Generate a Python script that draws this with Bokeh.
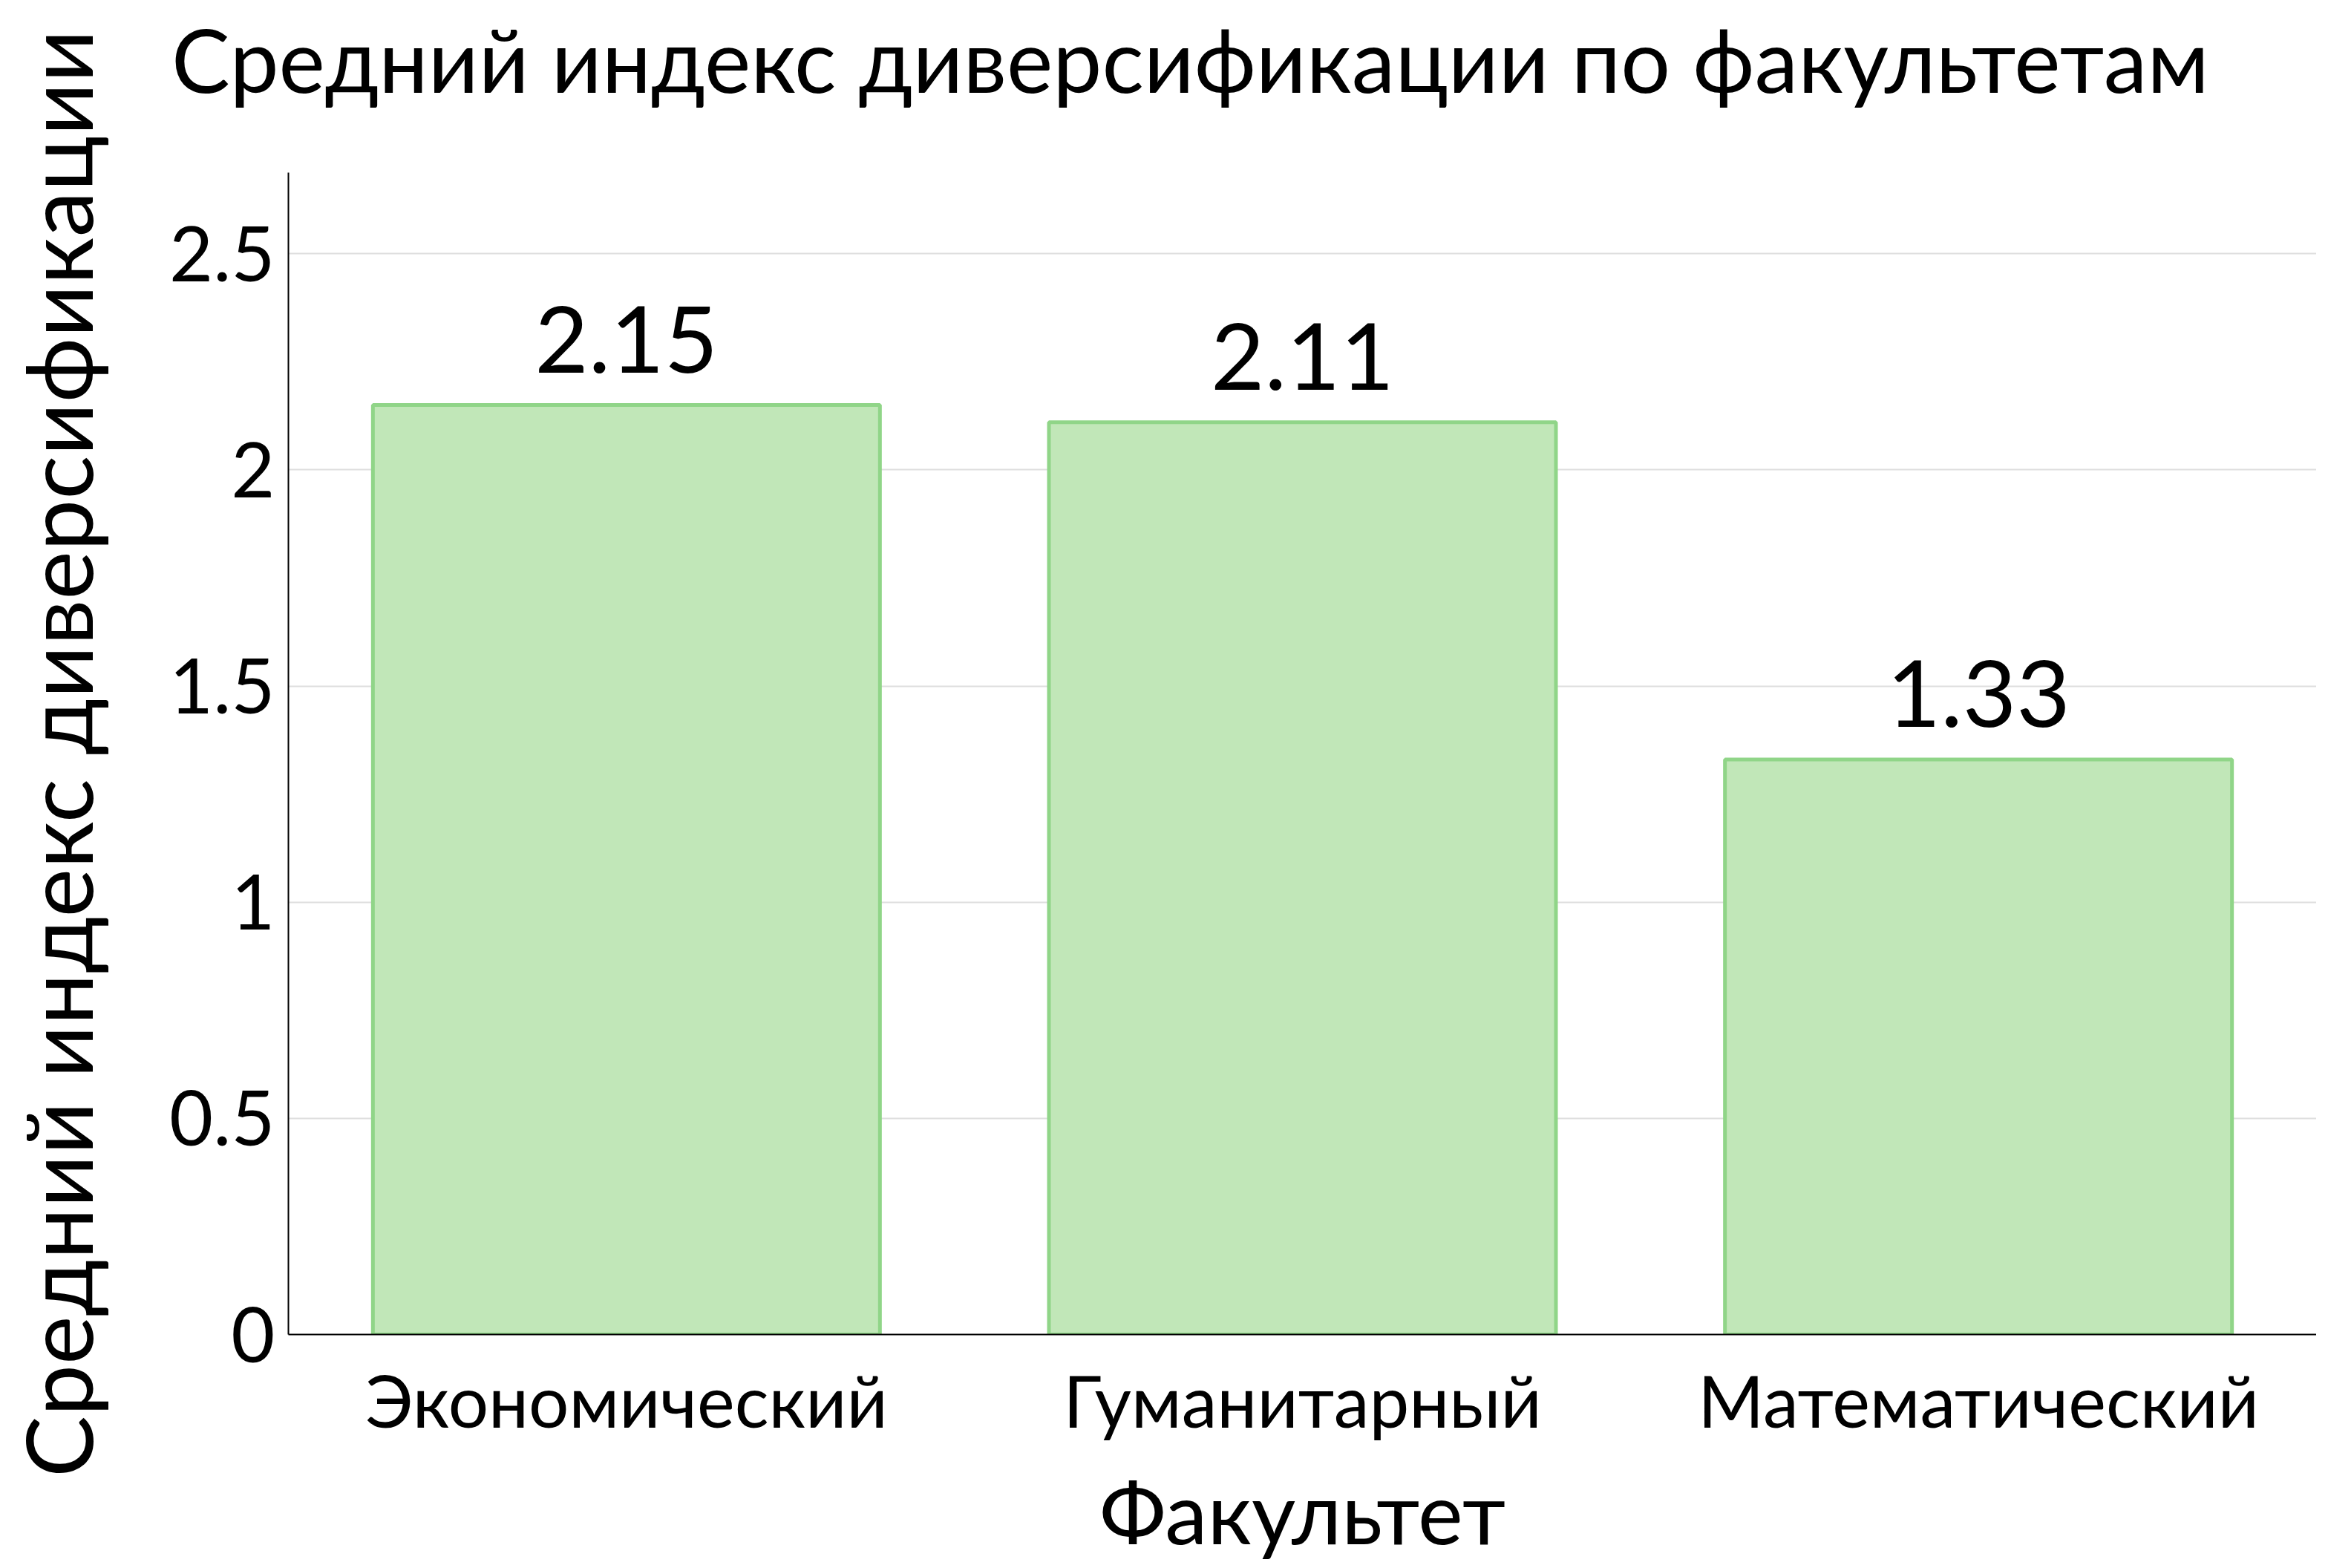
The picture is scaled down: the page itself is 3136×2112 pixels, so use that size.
from bokeh.plotting import figure
from bokeh.layouts import column
from bokeh.models import ColumnDataSource, Range1d, FixedTicker, LabelSet, FactorRange, NumeralTickFormatter, Div
from bokeh.core.properties import value
from bokeh.embed import file_html
from bokeh.resources import INLINE

categories = ["Экономический", "Гуманитарный", "Математический"]
values = [2.15, 2.11, 1.33]
value_labels = ["2.15", "2.11", "1.33"]
y_ticks = [0, 0.5, 1, 1.5, 2, 2.5]
title_text = "Средний индекс диверсификации по факультетам"
x_label = "Факультет"
y_label = "Средний индекс диверсификации"

FONT = "Lato"
y_top = max(values) * 1.25

src = ColumnDataSource(dict(cat=categories, val=values, lab=value_labels))

title_div = Div(text=title_text, width=3120, height=1,
                styles={"font-family": FONT, "font-size": "118px", "color": "black",
                        "line-height": "1.2", "white-space": "nowrap",
                        "padding-left": "226px", "position": "relative", "top": "4px"})

p = figure(width=3120, height=2095,
           x_range=FactorRange(factors=categories),
           y_range=Range1d(0, y_top),
           output_backend="svg", toolbar_location=None,
           min_border_left=388, min_border_top=221,
           min_border_bottom=296, min_border_right=0)
p.border_fill_color = None
p.background_fill_color = None

p.vbar(x="cat", top="val", width=0.75, source=src,
       fill_color="#c1e7b8", line_color="#90d588", line_width=5)

labels = LabelSet(x="cat", y="val", text="lab", source=src,
                  text_align="center", text_baseline="bottom", y_offset=44,
                  text_font=value(FONT), text_font_size="125px", text_color="black")
p.add_layout(labels)

p.xgrid.visible = False
p.ygrid.grid_line_color = "#dedede"
p.ygrid.grid_line_width = 2
p.outline_line_color = None

p.yaxis.ticker = FixedTicker(ticks=y_ticks)
p.yaxis.formatter = NumeralTickFormatter(format="0.[0]")

for ax in (p.xaxis[0], p.yaxis[0]):
    ax.axis_line_color = "black"
    ax.axis_line_width = 2
    ax.major_tick_line_color = None
    ax.minor_tick_line_color = None
    ax.major_label_text_font = FONT
    ax.major_label_text_font_style = "normal"
    ax.major_label_text_color = "black"
    ax.axis_label_text_font = FONT
    ax.axis_label_text_font_style = "normal"
    ax.axis_label_text_color = "black"

p.yaxis.major_label_text_font_size = "102px"
p.yaxis.major_label_standoff = 12
p.yaxis.axis_label = y_label
p.yaxis.axis_label_text_font_size = "124px"
p.yaxis.axis_label_standoff = 74

p.xaxis.major_label_text_font_size = "96px"
p.xaxis.major_label_standoff = 24
p.xaxis.axis_label = x_label
p.xaxis.axis_label_text_font_size = "115px"
p.xaxis.axis_label_standoff = 20

layout = column(title_div, p, spacing=0)
open("out.html", "w").write(file_html(layout, INLINE))
